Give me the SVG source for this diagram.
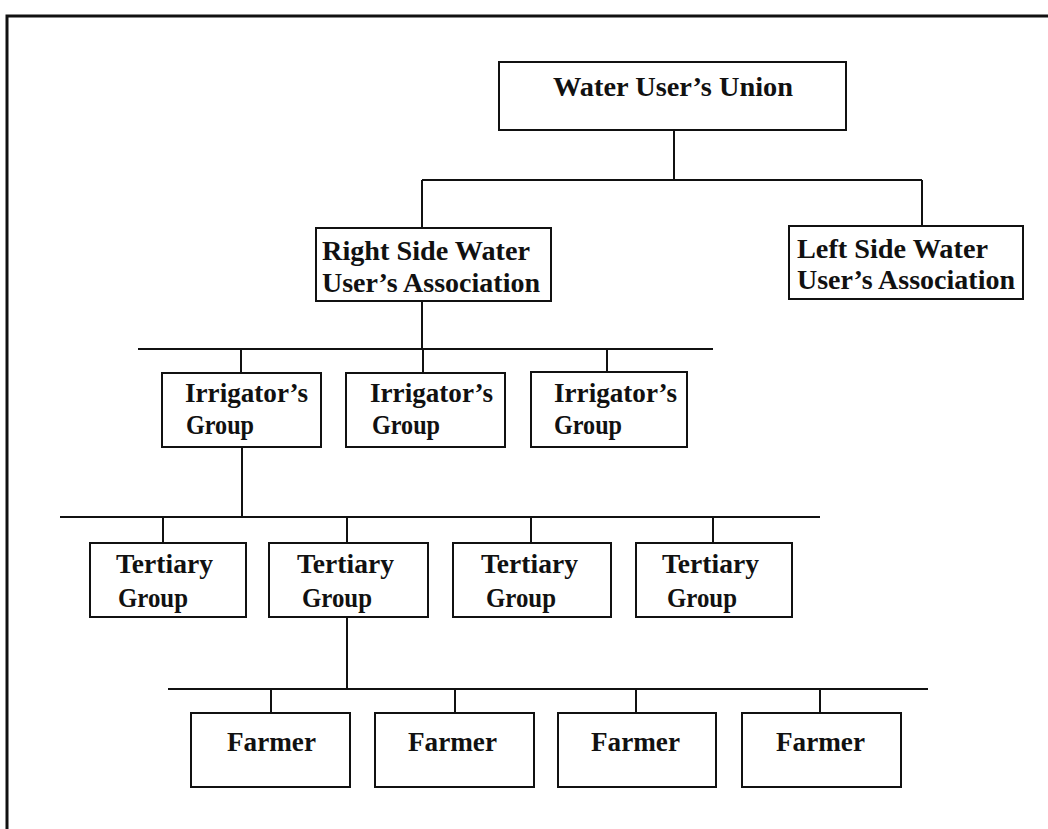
<svg xmlns="http://www.w3.org/2000/svg" width="1048" height="829" viewBox="0 0 1048 829">
<style>
.bg{fill:#fff}
.frame{stroke:#111;stroke-width:3;fill:none}
.box{fill:#fff;stroke:#111;stroke-width:2}
.ln{stroke:#111;stroke-width:2;fill:none}
.t{font-family:"Liberation Serif","Times New Roman",serif;font-size:28px;font-weight:bold;fill:#111}
</style>
<rect class="bg" x="0" y="0" width="1048" height="829"/>
<g id="frame">
<path class="frame" d="M1048,16 H7 V829"/>
</g>
<g id="connectors">
<path class="ln" d="M674,130 V180 M422,180 H922 M422,180 V228 M922,180 V226"/>
<path class="ln" d="M422,301 V349 M138,349 H713 M241,349 V373 M423,349 V373 M607,349 V372"/>
<path class="ln" d="M242,447 V517 M60,517 H820 M163,517 V543 M347,517 V543 M531,517 V543 M713,517 V543"/>
<path class="ln" d="M347,617 V689 M168,689 H928 M271,689 V713 M455,689 V713 M636,689 V713 M820,689 V713"/>
</g>
<g id="n-union">
<rect class="box" x="499" y="62" width="347" height="68"/>
<text class="t" x="553" y="96" textLength="240" lengthAdjust="spacingAndGlyphs">Water User’s Union</text>
</g>
<g id="n-right">
<rect class="box" x="316" y="228" width="235" height="73"/>
<text class="t" x="322" y="260" textLength="208" lengthAdjust="spacingAndGlyphs">Right Side Water</text>
<text class="t" x="322" y="292" textLength="218" lengthAdjust="spacingAndGlyphs">User’s Association</text>
</g>
<g id="n-left">
<rect class="box" x="789" y="226" width="234" height="73"/>
<text class="t" x="797" y="258" textLength="191" lengthAdjust="spacingAndGlyphs">Left Side Water</text>
<text class="t" x="797" y="289" textLength="218" lengthAdjust="spacingAndGlyphs">User’s Association</text>
</g>
<g id="n-irr1">
<rect class="box" x="162" y="373" width="159" height="74"/>
<text class="t" x="185" y="402" textLength="123" lengthAdjust="spacingAndGlyphs">Irrigator’s</text>
<text class="t" x="186" y="434" textLength="68" lengthAdjust="spacingAndGlyphs">Group</text>
</g>
<g id="n-irr2">
<rect class="box" x="346" y="373" width="159" height="74"/>
<text class="t" x="370" y="402" textLength="123" lengthAdjust="spacingAndGlyphs">Irrigator’s</text>
<text class="t" x="372" y="434" textLength="68" lengthAdjust="spacingAndGlyphs">Group</text>
</g>
<g id="n-irr3">
<rect class="box" x="531" y="372" width="156" height="75"/>
<text class="t" x="554" y="402" textLength="123" lengthAdjust="spacingAndGlyphs">Irrigator’s</text>
<text class="t" x="554" y="434" textLength="68" lengthAdjust="spacingAndGlyphs">Group</text>
</g>
<g id="n-ter1">
<rect class="box" x="90" y="543" width="156" height="74"/>
<text class="t" x="116" y="573" textLength="97" lengthAdjust="spacingAndGlyphs">Tertiary</text>
<text class="t" x="118" y="607" textLength="70" lengthAdjust="spacingAndGlyphs">Group</text>
</g>
<g id="n-ter2">
<rect class="box" x="269" y="543" width="159" height="74"/>
<text class="t" x="297" y="573" textLength="97" lengthAdjust="spacingAndGlyphs">Tertiary</text>
<text class="t" x="302" y="607" textLength="70" lengthAdjust="spacingAndGlyphs">Group</text>
</g>
<g id="n-ter3">
<rect class="box" x="453" y="543" width="158" height="74"/>
<text class="t" x="481" y="573" textLength="97" lengthAdjust="spacingAndGlyphs">Tertiary</text>
<text class="t" x="486" y="607" textLength="70" lengthAdjust="spacingAndGlyphs">Group</text>
</g>
<g id="n-ter4">
<rect class="box" x="636" y="543" width="156" height="74"/>
<text class="t" x="662" y="573" textLength="97" lengthAdjust="spacingAndGlyphs">Tertiary</text>
<text class="t" x="667" y="607" textLength="70" lengthAdjust="spacingAndGlyphs">Group</text>
</g>
<g id="n-farm1">
<rect class="box" x="191" y="713" width="159" height="74"/>
<text class="t" x="227" y="751" textLength="89" lengthAdjust="spacingAndGlyphs">Farmer</text>
</g>
<g id="n-farm2">
<rect class="box" x="375" y="713" width="159" height="74"/>
<text class="t" x="408" y="751" textLength="89" lengthAdjust="spacingAndGlyphs">Farmer</text>
</g>
<g id="n-farm3">
<rect class="box" x="558" y="713" width="158" height="74"/>
<text class="t" x="591" y="751" textLength="89" lengthAdjust="spacingAndGlyphs">Farmer</text>
</g>
<g id="n-farm4">
<rect class="box" x="742" y="713" width="159" height="74"/>
<text class="t" x="776" y="751" textLength="89" lengthAdjust="spacingAndGlyphs">Farmer</text>
</g>
</svg>
